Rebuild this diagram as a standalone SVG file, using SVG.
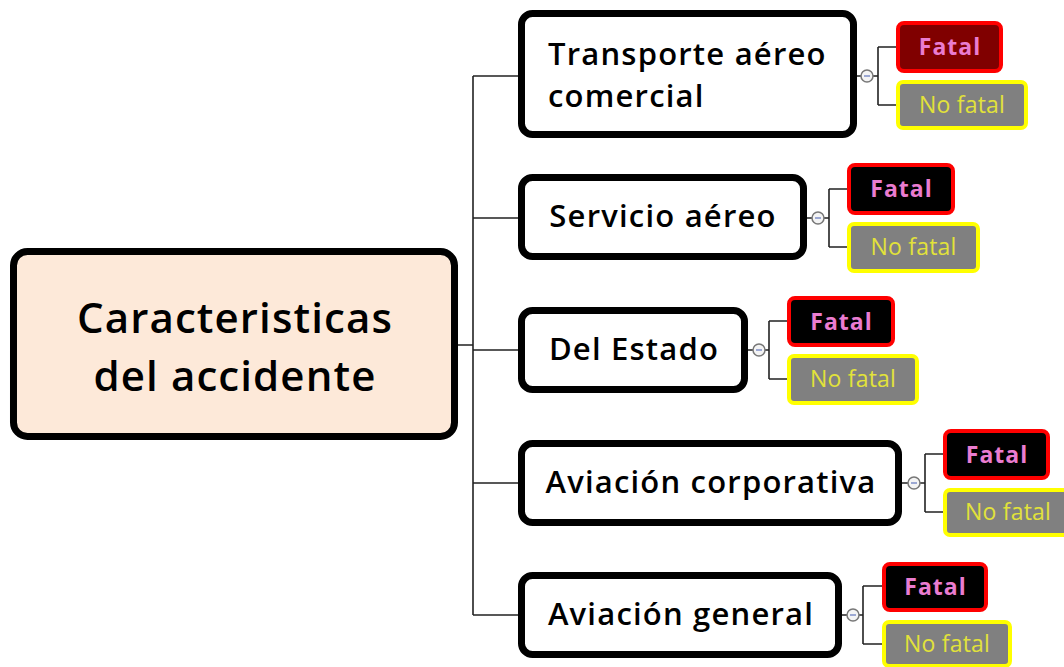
<svg xmlns="http://www.w3.org/2000/svg" width="1064" height="667" viewBox="0 0 1064 667">
<style>
.node{fill:#fff;stroke:#000;stroke-width:7}
.root{fill:#fde9d9;stroke:#000;stroke-width:7}
.nt{font-family:"Open Sans","Liberation Sans",sans-serif;font-weight:600;font-size:31px;letter-spacing:1.2px;fill:#000;text-anchor:middle}
.rt{font-family:"Open Sans","Liberation Sans",sans-serif;font-weight:600;font-size:42px;letter-spacing:1.1px;fill:#000;text-anchor:middle}
.fatal{stroke:#ff0000;stroke-width:4}
.nofatal{fill:#808080;stroke:#ffff00;stroke-width:4}
.ft{font-family:"Open Sans","Liberation Sans",sans-serif;font-weight:700;font-size:23px;letter-spacing:1px;fill:#ea7cd0;text-anchor:middle}
.nft{font-family:"Open Sans","Liberation Sans",sans-serif;font-weight:400;font-size:23px;letter-spacing:0.2px;fill:#e2e23a;text-anchor:middle}
.ln{fill:none;stroke:#222;stroke-width:1.6}
.tog{fill:#f4f4f4;stroke:#777;stroke-width:1.5}
.minus{stroke:#7f8fc8;stroke-width:1.5}
</style>
<g id="connectors">
<path class="ln" d="M458 345H473M473 76V615M473 76H518M473 218H518M473 350H518M473 483H518M473 615H518"/>
<path class="ln" d="M857 76H878M878 47V105M878 47H896M878 105H896"/>
<path class="ln" d="M807 218H829M829 189V247M829 189H847M829 247H847"/>
<path class="ln" d="M748 350H769M769 321V379M769 321H787M769 379H787"/>
<path class="ln" d="M902 483H925M925 454V512M925 454H943M925 512H943"/>
<path class="ln" d="M842 615H863M863 586V644M863 586H882M863 644H882"/>
</g>
<g id="root">
<rect class="root" x="13.5" y="251.5" width="441" height="185" rx="14"/>
<text class="rt" x="235" y="333">Caracteristicas</text>
<text class="rt" x="235" y="391">del accidente</text>
</g>
<g id="n1">
<rect class="node" x="521.5" y="13.5" width="332" height="121" rx="11"/>
<text class="nt" x="548" y="65" style="text-anchor:start">Transporte aéreo</text>
<text class="nt" x="548" y="107" style="text-anchor:start">comercial</text>
</g>
<g id="n2">
<rect class="node" x="521.5" y="177.5" width="282" height="79" rx="11"/>
<text class="nt" x="663" y="227">Servicio aéreo</text>
</g>
<g id="n3">
<rect class="node" x="521.5" y="310.5" width="223" height="79" rx="11"/>
<text class="nt" x="634" y="360">Del Estado</text>
</g>
<g id="n4">
<rect class="node" x="521.5" y="443.5" width="377" height="79" rx="11"/>
<text class="nt" x="711" y="493">Aviación corporativa</text>
</g>
<g id="n5">
<rect class="node" x="521.5" y="575.5" width="317" height="79" rx="11"/>
<text class="nt" x="681" y="625">Aviación general</text>
</g>
<g id="t1"><circle class="tog" cx="867" cy="76" r="6"/><path class="minus" d="M864 76H870"/></g>
<g id="t2"><circle class="tog" cx="818" cy="218" r="6"/><path class="minus" d="M815 218H821"/></g>
<g id="t3"><circle class="tog" cx="759" cy="350" r="6"/><path class="minus" d="M756 350H762"/></g>
<g id="t4"><circle class="tog" cx="914" cy="483" r="6"/><path class="minus" d="M911 483H917"/></g>
<g id="t5"><circle class="tog" cx="853" cy="615" r="6"/><path class="minus" d="M850 615H856"/></g>
<g id="f1"><rect class="fatal" fill="#800000" x="898" y="23" width="103" height="48" rx="6"/><text class="ft" x="950" y="55">Fatal</text></g>
<g id="nf1"><rect class="nofatal" x="898" y="82" width="128" height="46" rx="5"/><text class="nft" x="962" y="113">No fatal</text></g>
<g id="f2"><rect class="fatal" fill="#000" x="849" y="165" width="104" height="48" rx="6"/><text class="ft" x="901.5" y="197">Fatal</text></g>
<g id="nf2"><rect class="nofatal" x="849" y="224" width="129" height="47" rx="5"/><text class="nft" x="913.5" y="255">No fatal</text></g>
<g id="f3"><rect class="fatal" fill="#000" x="789" y="298" width="104" height="47" rx="6"/><text class="ft" x="841.5" y="330">Fatal</text></g>
<g id="nf3"><rect class="nofatal" x="789" y="356" width="128" height="47" rx="5"/><text class="nft" x="853" y="387">No fatal</text></g>
<g id="f4"><rect class="fatal" fill="#000" x="945" y="431" width="103" height="47" rx="6"/><text class="ft" x="997" y="463">Fatal</text></g>
<g id="nf4"><rect class="nofatal" x="945" y="490" width="128" height="45" rx="5"/><text class="nft" x="1008" y="520">No fatal</text></g>
<g id="f5"><rect class="fatal" fill="#000" x="884" y="564" width="102" height="46" rx="6"/><text class="ft" x="935.5" y="595">Fatal</text></g>
<g id="nf5"><rect class="nofatal" x="884" y="622" width="126" height="44" rx="5"/><text class="nft" x="947" y="652">No fatal</text></g>
</svg>
